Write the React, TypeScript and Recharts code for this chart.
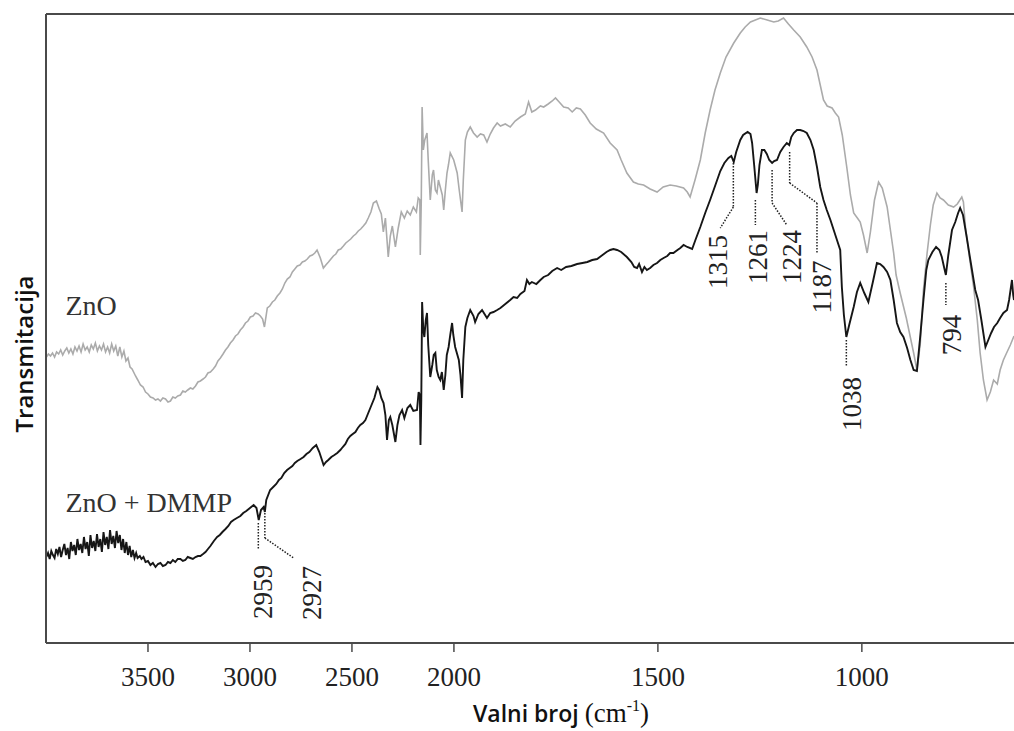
import { LineChart, Line, XAxis, YAxis, ReferenceLine, ReferenceDot } from 'recharts';

// wavenumber (cm-1) / transmittance (arb. units)
const ZNO: [number, number][] = [
  [3998, 286], [3988, 289], [3978, 287], [3968, 290], [3958, 286], [3948, 291], [3938, 289], [3928, 293],
  [3918, 288], [3908, 292], [3898, 295], [3888, 290], [3878, 294], [3868, 289], [3858, 296], [3848, 292],
  [3838, 297], [3828, 291], [3818, 299], [3808, 293], [3798, 296], [3788, 291], [3778, 298], [3768, 294],
  [3758, 300], [3748, 292], [3738, 297], [3728, 293], [3718, 299], [3708, 291], [3698, 296], [3688, 290],
  [3678, 299], [3668, 292], [3658, 297], [3648, 287], [3638, 296], [3628, 286], [3618, 292], [3608, 282],
  [3598, 285], [3588, 276], [3578, 274], [3561, 267], [3550, 263], [3537, 258], [3524, 256], [3512, 251],
  [3500, 249], [3488, 246], [3475, 245], [3463, 243], [3451, 244], [3439, 242], [3427, 245], [3414, 244],
  [3402, 241], [3390, 242], [3378, 246], [3366, 245], [3354, 247], [3341, 248], [3329, 252], [3317, 251],
  [3305, 253], [3292, 255], [3280, 254], [3267, 257], [3255, 261], [3243, 262], [3230, 264], [3218, 266],
  [3206, 270], [3194, 271], [3180, 274], [3169, 277], [3157, 282], [3145, 285], [3132, 289], [3120, 293],
  [3108, 296], [3096, 300], [3083, 303], [3071, 307], [3059, 309], [3047, 313], [3034, 316], [3022, 320],
  [3010, 322], [2998, 326], [2985, 327], [2973, 330], [2960, 329], [2949, 327], [2938, 324], [2929, 316],
  [2915, 335], [2903, 337], [2890, 341], [2878, 343], [2866, 347], [2853, 350], [2841, 354], [2829, 360],
  [2817, 364], [2804, 366], [2792, 371], [2780, 374], [2768, 377], [2755, 378], [2743, 381], [2731, 382],
  [2719, 384], [2706, 387], [2694, 388], [2682, 390], [2671, 393], [2655, 385], [2640, 375], [2628, 378],
  [2615, 381], [2603, 384], [2591, 387], [2579, 389], [2567, 393], [2555, 394], [2542, 397], [2530, 400],
  [2518, 402], [2506, 404], [2493, 407], [2481, 409], [2469, 412], [2457, 414], [2444, 417], [2432, 420],
  [2420, 425], [2407, 431], [2395, 440], [2380, 442], [2366, 434], [2356, 429], [2346, 411], [2336, 425],
  [2322, 386], [2312, 407], [2302, 417], [2287, 396], [2273, 415], [2258, 431], [2243, 425], [2229, 432],
  [2214, 428], [2199, 436], [2184, 431], [2175, 445], [2167, 443], [2165, 388], [2160, 443], [2156, 536],
  [2150, 493], [2143, 503], [2132, 510], [2126, 483], [2116, 443], [2106, 468], [2100, 473], [2091, 453],
  [2083, 450], [2076, 463], [2067, 456], [2057, 448], [2050, 433], [2042, 453], [2034, 470], [2027, 478],
  [2018, 490], [2001, 483], [1992, 470], [1987, 453], [1980, 431], [1977, 463], [1972, 503], [1967, 511],
  [1960, 516], [1952, 510], [1943, 506], [1935, 509], [1927, 508], [1919, 501], [1911, 509], [1903, 515],
  [1894, 520], [1886, 517], [1874, 519], [1862, 516], [1850, 522], [1837, 526], [1825, 529], [1817, 541],
  [1809, 531], [1800, 533], [1788, 537], [1780, 536], [1769, 539], [1759, 542], [1751, 545], [1742, 541],
  [1731, 536], [1720, 535], [1710, 531], [1700, 535], [1690, 534], [1678, 528], [1666, 520], [1651, 514],
  [1633, 510], [1617, 500], [1600, 493], [1590, 483], [1576, 470], [1560, 461], [1548, 459], [1535, 458],
  [1519, 454], [1502, 451], [1487, 456], [1470, 458], [1455, 457], [1437, 455], [1428, 451], [1421, 446],
  [1409, 463], [1396, 483], [1384, 510], [1372, 533], [1360, 553], [1347, 570], [1333, 586], [1314, 600],
  [1298, 610], [1286, 616], [1273, 621], [1249, 625], [1232, 623], [1216, 621], [1205, 622], [1192, 625],
  [1180, 619], [1167, 613], [1151, 606], [1135, 596], [1122, 586], [1110, 573], [1102, 558], [1094, 543],
  [1085, 537], [1073, 535], [1065, 530], [1057, 526], [1048, 508], [1037, 476], [1028, 448], [1020, 430],
  [1011, 425], [1004, 421], [996, 408], [987, 390], [979, 411], [969, 443], [959, 461], [950, 455],
  [938, 436], [930, 413], [922, 390], [916, 368], [906, 350], [891, 325], [873, 290], [865, 273],
  [857, 298], [849, 353], [840, 390], [832, 418], [825, 438], [816, 450], [808, 445], [800, 443],
  [788, 438], [775, 436], [766, 439], [755, 446], [751, 441], [746, 416], [737, 388], [726, 356],
  [717, 323], [710, 290], [702, 263], [693, 243], [685, 251], [677, 263], [668, 259], [661, 273],
  [653, 283], [644, 291], [636, 298], [627, 307],
];

const ZNO_DMMP: [number, number][] = [
  [3998, 86], [3990, 90], [3982, 84], [3974, 92], [3966, 88], [3958, 85], [3950, 94], [3942, 89],
  [3934, 96], [3926, 86], [3918, 93], [3910, 99], [3902, 88], [3894, 95], [3886, 84], [3878, 101],
  [3870, 92], [3862, 98], [3854, 88], [3846, 104], [3838, 93], [3830, 99], [3822, 90], [3814, 106],
  [3806, 94], [3798, 101], [3790, 87], [3782, 108], [3774, 95], [3766, 102], [3758, 92], [3750, 109],
  [3742, 96], [3734, 104], [3726, 91], [3718, 111], [3710, 98], [3702, 106], [3694, 94], [3686, 113],
  [3678, 99], [3670, 107], [3662, 95], [3654, 112], [3646, 100], [3638, 108], [3630, 93], [3622, 104],
  [3614, 90], [3606, 101], [3598, 88], [3590, 97], [3582, 86], [3574, 93], [3566, 85], [3558, 90],
  [3551, 85], [3540, 87], [3532, 84], [3522, 86], [3512, 81], [3500, 82], [3488, 78], [3476, 80],
  [3463, 76], [3451, 79], [3439, 80], [3427, 77], [3414, 78], [3402, 81], [3390, 80], [3378, 83],
  [3366, 81], [3354, 84], [3341, 84], [3329, 82], [3317, 83], [3305, 86], [3292, 85], [3280, 84],
  [3267, 86], [3255, 87], [3243, 87], [3230, 89], [3218, 91], [3206, 94], [3194, 97], [3177, 102],
  [3161, 106], [3148, 108], [3135, 111], [3120, 114], [3106, 117], [3093, 121], [3080, 123], [3064, 125],
  [3047, 127], [3033, 130], [3018, 132], [3000, 135], [2982, 138], [2968, 135], [2957, 123], [2946, 133],
  [2933, 136], [2927, 131], [2920, 143], [2901, 153], [2886, 156], [2871, 159], [2858, 163], [2846, 165],
  [2832, 170], [2818, 173], [2805, 175], [2792, 177], [2780, 180], [2768, 182], [2752, 184], [2737, 186],
  [2723, 189], [2709, 191], [2692, 195], [2675, 198], [2660, 191], [2639, 178], [2627, 181], [2616, 183],
  [2601, 186], [2586, 188], [2572, 190], [2557, 193], [2545, 196], [2532, 199], [2520, 204], [2508, 207],
  [2496, 209], [2483, 211], [2471, 215], [2459, 218], [2446, 220], [2434, 223], [2422, 229], [2410, 235],
  [2390, 245], [2375, 256], [2366, 253], [2356, 245], [2345, 240], [2336, 228], [2328, 203], [2319, 223],
  [2312, 226], [2302, 218], [2287, 201], [2277, 218], [2267, 228], [2254, 233], [2243, 225], [2228, 235],
  [2214, 238], [2199, 232], [2181, 233], [2173, 251], [2167, 248], [2164, 198], [2160, 243], [2156, 341],
  [2150, 313], [2145, 306], [2138, 323], [2132, 330], [2126, 298], [2116, 266], [2106, 278], [2099, 288],
  [2091, 290], [2084, 273], [2075, 266], [2067, 263], [2059, 271], [2050, 253], [2042, 268], [2035, 288],
  [2026, 296], [2018, 308], [2009, 320], [2003, 308], [1997, 296], [1988, 283], [1984, 268], [1980, 245],
  [1977, 283], [1972, 316], [1967, 325], [1960, 333], [1952, 327], [1948, 321], [1940, 329], [1931, 333],
  [1925, 329], [1919, 325], [1911, 330], [1903, 331], [1894, 333], [1886, 335], [1874, 339], [1862, 343],
  [1854, 346], [1845, 345], [1837, 349], [1827, 352], [1821, 363], [1815, 359], [1809, 361], [1798, 359],
  [1788, 363], [1780, 366], [1769, 368], [1759, 372], [1747, 375], [1737, 373], [1725, 376], [1712, 377],
  [1698, 379], [1685, 380], [1673, 381], [1661, 383], [1649, 384], [1639, 387], [1626, 391], [1617, 393],
  [1609, 394], [1600, 393], [1590, 391], [1576, 386], [1565, 381], [1558, 376], [1551, 375], [1546, 379],
  [1539, 371], [1533, 376], [1527, 373], [1519, 375], [1511, 378], [1502, 380], [1494, 383], [1486, 385],
  [1477, 387], [1470, 390], [1462, 390], [1452, 393], [1445, 395], [1437, 398], [1428, 396], [1416, 394],
  [1408, 403], [1396, 416], [1384, 430], [1372, 443], [1359, 458], [1347, 472], [1337, 480], [1327, 485],
  [1320, 487], [1314, 481], [1308, 491], [1298, 503], [1291, 508], [1280, 511], [1273, 509], [1269, 500],
  [1264, 478], [1258, 450], [1255, 458], [1251, 478], [1245, 493], [1239, 493], [1233, 489], [1227, 483],
  [1220, 480], [1215, 482], [1208, 483], [1200, 491], [1192, 496], [1184, 500], [1178, 498], [1173, 506],
  [1167, 510], [1159, 513], [1151, 513], [1143, 512], [1135, 510], [1126, 503], [1118, 493], [1110, 476],
  [1102, 456], [1094, 443], [1086, 433], [1077, 423], [1069, 413], [1061, 403], [1053, 393], [1049, 356],
  [1044, 328], [1038, 306], [1031, 318], [1020, 336], [1012, 351], [1004, 360], [994, 350], [984, 341],
  [973, 361], [963, 380], [955, 379], [947, 376], [938, 371], [930, 363], [922, 343], [914, 320],
  [906, 311], [898, 306], [889, 295], [881, 283], [873, 273], [865, 272], [857, 306], [849, 343],
  [842, 373], [837, 383], [827, 391], [818, 396], [810, 393], [804, 386], [798, 375], [794, 368],
  [788, 388], [779, 413], [771, 421], [764, 430], [759, 435], [752, 428], [743, 406], [734, 383],
  [726, 363], [722, 353], [715, 343], [707, 323], [697, 296], [690, 303], [683, 310], [676, 316],
  [668, 320], [661, 325], [653, 330], [644, 333], [639, 343], [632, 363], [629, 348], [627, 343],
];

const X_TICKS = [3500, 3000, 2500, 2000, 1500, 1000];

const PEAK_LABELS = ['2959', '2927', '1315', '1261', '1224', '1187', '1038', '794'];
const PEAK_LEADERS: [number, number][][] = [
  [[2959, 120], [2959, 93]],
  [[2927, 133], [2927, 105], [2786, 85]],
  [[1315, 480], [1315, 436], [1347, 415]],
  [[1261, 443], [1261, 418]],
  [[1220, 473], [1220, 440], [1184, 418]],
  [[1177, 491], [1177, 460], [1110, 440], [1110, 390]],
  [[1038, 303], [1038, 276]],
  [[794, 360], [794, 338]],
];
const PEAK_LABEL_AT: [number, number][] = [
  [2934, 51], [2696, 50], [1352, 381], [1254, 386], [1171, 386], [1098, 356], [1024, 239], [779, 308],
];

const SERIES_NAMES = ['ZnO', 'ZnO + DMMP'];
const SERIES_NAME_AT: [number, number][] = [[3905, 328], [3905, 131]];

const X_MIN = 627;
const X_MAX = 4000;
const Y_MAX = 629;

// the instrument doubles the scale below 2000 cm-1
const toAxis = (wn: number) => (wn >= 2000 ? wn : 2000 - 2 * (2000 - wn));
const fromAxis = (p: number) => (p >= 2000 ? p : 2000 - (2000 - p) / 2);

const SERIF = '"Liberation Serif", "Times New Roman", serif';
const SANS = '"Open Sans", "Noto Sans", sans-serif';
const FRAME = '#4a4a4a';

const znoData = ZNO.map(([wn, t]) => ({ x: toAxis(wn), y: t }));
const dmmpData = ZNO_DMMP.map(([wn, t]) => ({ x: toAxis(wn), y: t }));

function XTick(props: any) {
  const { x, y, payload } = props;
  return (
    <text x={x} y={y + 32} textAnchor="middle" fontFamily={SERIF} fontSize={27} fill="#222">
      {fromAxis(payload.value)}
    </text>
  );
}

function RotatedLabel(text: string) {
  return (props: any) => {
    const { cx, cy } = props;
    return (
      <text
        x={cx}
        y={cy}
        transform={`rotate(-90 ${cx} ${cy})`}
        textAnchor="middle"
        dominantBaseline="central"
        fontFamily={SERIF}
        fontSize={27}
        fill="#222"
      >
        {text}
      </text>
    );
  };
}

function PlainLabel(text: string) {
  return (props: any) => (
    <text x={props.cx} y={props.cy} fontFamily={SERIF} fontSize={28} fill="#333">
      {text}
    </text>
  );
}

export default function App() {
  return (
    <div style={{ padding: '8px 0 0 8px' }}>
      <style>{'body{margin:0;overflow:hidden}'}</style>
      <LineChart width={1006} height={723} margin={{ top: 6, right: 0, left: 0, bottom: 0 }}>
        <XAxis
          type="number"
          dataKey="x"
          domain={[toAxis(X_MIN), X_MAX]}
          reversed
          allowDataOverflow
          ticks={X_TICKS.map(toAxis)}
          tick={XTick}
          tickSize={9}
          height={88}
          axisLine={{ stroke: FRAME, strokeWidth: 2 }}
          tickLine={{ stroke: FRAME, strokeWidth: 1.5 }}
          label={{
            content: () => (
              <text x={553} y={714} textAnchor="middle" fill="#111">
                <tspan fontFamily={SANS} fontWeight={600} fontSize={23}>Valni broj </tspan>
                <tspan fontFamily={SERIF} fontSize={27}>(cm</tspan>
                <tspan fontFamily={SERIF} fontSize={16} dy={-11}>-1</tspan>
                <tspan fontFamily={SERIF} fontSize={27} dy={11}>)</tspan>
              </text>
            ),
          }}
        />
        <YAxis
          type="number"
          domain={[0, Y_MAX]}
          width={38}
          tick={false}
          tickLine={false}
          axisLine={{ stroke: FRAME, strokeWidth: 2 }}
          label={{
            content: () => (
              <text
                x={15}
                y={346}
                transform="rotate(-90 15 346)"
                textAnchor="middle"
                dominantBaseline="central"
                fontFamily={SANS}
                fontWeight={600}
                fontSize={24}
                fill="#111"
              >
                Transmitacija
              </text>
            ),
          }}
        />
        <ReferenceLine y={Y_MAX} stroke={FRAME} strokeWidth={2} />
        <Line
          data={znoData}
          dataKey="y"
          type="linear"
          stroke="#ababab"
          strokeWidth={1.6}
          dot={false}
          isAnimationActive={false}
        />
        <Line
          data={dmmpData}
          dataKey="y"
          type="linear"
          stroke="#161616"
          strokeWidth={1.9}
          dot={false}
          isAnimationActive={false}
        />
        {PEAK_LEADERS.flatMap((path, i) =>
          path.slice(1).map((pt, j) => (
            <ReferenceLine
              key={`lead-${i}-${j}`}
              segment={[
                { x: toAxis(path[j][0]), y: path[j][1] },
                { x: toAxis(pt[0]), y: pt[1] },
              ]}
              stroke="#222"
              strokeWidth={1.5}
              strokeDasharray="1.5 1.5"
            />
          ))
        )}
        {PEAK_LABELS.map((label, i) => (
          <ReferenceDot
            key={`peak-${label}`}
            x={toAxis(PEAK_LABEL_AT[i][0])}
            y={PEAK_LABEL_AT[i][1]}
            r={1}
            shape={RotatedLabel(label)}
          />
        ))}
        {SERIES_NAMES.map((name, i) => (
          <ReferenceDot
            key={`name-${name}`}
            x={toAxis(SERIES_NAME_AT[i][0])}
            y={SERIES_NAME_AT[i][1]}
            r={1}
            shape={PlainLabel(name)}
          />
        ))}
      </LineChart>
    </div>
  );
}
